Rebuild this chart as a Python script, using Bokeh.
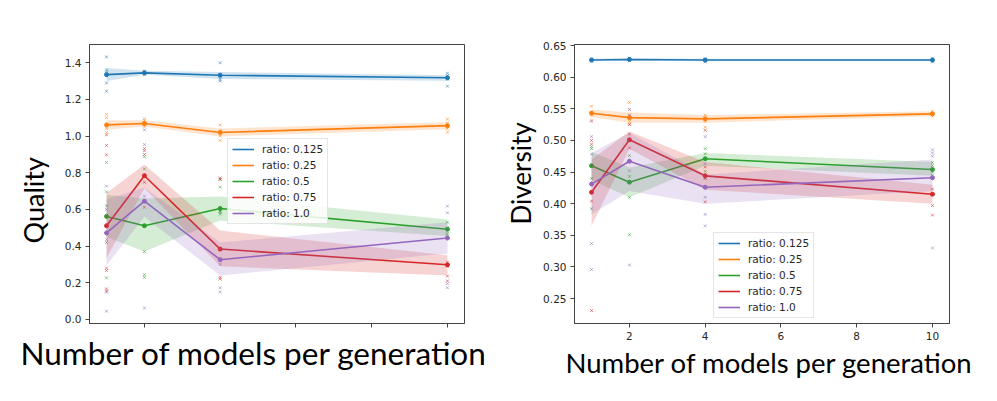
from bokeh.plotting import figure
from bokeh.models import (Legend, LegendItem, FixedTicker, Range1d, Title,
                          PrintfTickFormatter)
from bokeh.layouts import row
from bokeh.embed import file_html
from bokeh.resources import INLINE

# ---------------- data ----------------
X = [1, 2, 4, 10]
RATIOS = ["ratio: 0.125", "ratio: 0.25", "ratio: 0.5", "ratio: 0.75", "ratio: 1.0"]
COLORS = ["#1f77b4", "#ff7f0e", "#2ca02c", "#d62728", "#9467bd"]

# Quality (left panel): means, CI lower, CI upper
Q_MEAN_0125 = [1.335, 1.345, 1.332, 1.318]
Q_MEAN_025 = [1.061, 1.069, 1.020, 1.057]
Q_MEAN_05 = [0.562, 0.511, 0.605, 0.492]
Q_MEAN_075 = [0.511, 0.784, 0.384, 0.298]
Q_MEAN_10 = [0.472, 0.645, 0.326, 0.444]

Q_LO_0125 = [1.300, 1.335, 1.312, 1.302]
Q_HI_0125 = [1.372, 1.356, 1.350, 1.332]
Q_LO_025 = [1.036, 1.052, 0.998, 1.038]
Q_HI_025 = [1.086, 1.086, 1.042, 1.076]
Q_LO_05 = [0.450, 0.370, 0.540, 0.455]
Q_HI_05 = [0.680, 0.660, 0.670, 0.545]
Q_LO_075 = [0.335, 0.715, 0.290, 0.240]
Q_HI_075 = [0.690, 0.845, 0.485, 0.350]
Q_LO_10 = [0.295, 0.560, 0.240, 0.360]
Q_HI_10 = [0.655, 0.720, 0.420, 0.530]

# Quality individual runs, one list per x value (1, 2, 4, 10)
Q_PTS_0125 = [[1.432, 1.361, 1.350, 1.290, 1.245], [1.355, 1.348, 1.340, 1.335],
              [1.400, 1.335, 1.325, 1.310, 1.300], [1.343, 1.330, 1.320, 1.310, 1.272]]
Q_PTS_025 = [[1.118, 1.100, 1.063, 1.041, 1.020], [1.095, 1.085, 1.070, 1.060, 1.050],
             [1.060, 1.030, 1.020, 1.000, 0.976], [1.092, 1.070, 1.055, 1.040, 1.021]]
Q_PTS_05 = [[0.856, 0.696, 0.620, 0.420, 0.227], [0.887, 0.821, 0.370, 0.244, 0.230],
            [0.763, 0.722, 0.590, 0.585, 0.575], [0.530, 0.500, 0.490, 0.470, 0.460]]
Q_PTS_075 = [[1.007, 0.949, 0.898, 0.280, 0.267, 0.167, 0.155], [0.932, 0.920, 0.900, 0.748, 0.612],
             [0.772, 0.765, 0.380, 0.230, 0.220], [0.312, 0.300, 0.290, 0.236, 0.210]]
Q_PTS_10 = [[0.727, 0.600, 0.436, 0.149, 0.045], [1.034, 0.954, 0.672, 0.650, 0.062],
            [0.320, 0.300, 0.173, 0.150], [0.618, 0.582, 0.450, 0.195, 0.173]]

# Diversity (right panel)
D_MEAN_0125 = [0.627, 0.628, 0.627, 0.627]
D_MEAN_025 = [0.543, 0.536, 0.534, 0.542]
D_MEAN_05 = [0.460, 0.434, 0.471, 0.454]
D_MEAN_075 = [0.418, 0.501, 0.444, 0.415]
D_MEAN_10 = [0.431, 0.467, 0.426, 0.441]

D_LO_0125 = [0.625, 0.626, 0.625, 0.625]
D_HI_0125 = [0.629, 0.630, 0.629, 0.629]
D_LO_025 = [0.537, 0.528, 0.528, 0.538]
D_HI_025 = [0.549, 0.544, 0.540, 0.546]
D_LO_05 = [0.437, 0.410, 0.460, 0.444]
D_HI_05 = [0.482, 0.457, 0.480, 0.466]
D_LO_075 = [0.365, 0.487, 0.422, 0.400]
D_HI_075 = [0.470, 0.514, 0.466, 0.430]
D_LO_10 = [0.383, 0.420, 0.400, 0.420]
D_HI_10 = [0.480, 0.512, 0.446, 0.470]

D_PTS_0125 = [[0.629, 0.627, 0.625], [0.630, 0.628, 0.626],
              [0.629, 0.627, 0.624], [0.630, 0.627, 0.624]]
D_PTS_025 = [[0.554, 0.545, 0.540, 0.532], [0.560, 0.549, 0.540, 0.530, 0.526],
             [0.540, 0.535, 0.530, 0.521], [0.546, 0.542, 0.538]]
D_PTS_05 = [[0.490, 0.487, 0.460, 0.440, 0.392], [0.476, 0.443, 0.410, 0.351],
            [0.487, 0.479, 0.451, 0.440], [0.465, 0.460, 0.450, 0.445]]
D_PTS_075 = [[0.500, 0.494, 0.404, 0.231], [0.525, 0.510, 0.500, 0.488],
             [0.516, 0.458, 0.440, 0.403], [0.423, 0.415, 0.397, 0.382]]
D_PTS_10 = [[0.530, 0.506, 0.478, 0.337, 0.296], [0.549, 0.540, 0.452, 0.303],
            [0.506, 0.463, 0.410, 0.383, 0.365], [0.485, 0.480, 0.475, 0.330]]

Q_YTICKS = [0.0, 0.2, 0.4, 0.6, 0.8, 1.0, 1.2, 1.4]
D_YTICKS = [0.25, 0.30, 0.35, 0.40, 0.45, 0.50, 0.55, 0.60, 0.65]
XTICKS = [2, 4, 6, 8, 10]
X_LABEL = "Number of models per generation"

Q_SERIES = [(Q_MEAN_0125, Q_LO_0125, Q_HI_0125, Q_PTS_0125),
            (Q_MEAN_025, Q_LO_025, Q_HI_025, Q_PTS_025),
            (Q_MEAN_05, Q_LO_05, Q_HI_05, Q_PTS_05),
            (Q_MEAN_075, Q_LO_075, Q_HI_075, Q_PTS_075),
            (Q_MEAN_10, Q_LO_10, Q_HI_10, Q_PTS_10)]
D_SERIES = [(D_MEAN_0125, D_LO_0125, D_HI_0125, D_PTS_0125),
            (D_MEAN_025, D_LO_025, D_HI_025, D_PTS_025),
            (D_MEAN_05, D_LO_05, D_HI_05, D_PTS_05),
            (D_MEAN_075, D_LO_075, D_HI_075, D_PTS_075),
            (D_MEAN_10, D_LO_10, D_HI_10, D_PTS_10)]

TICK_FONT = "DejaVu Sans"
BIG_FONT = "Lato"


def panel(series, width, yr, yticks, yfmt, borders, show_xlabels, legend_loc,
          ylabel, ylab_size, ylab_offset, ylab_standoff,
          xlab_size, xlab_offset, xlab_standoff):
    bl, br, bt, bb = borders
    p = figure(width=width, height=400, output_backend="svg", toolbar_location=None,
               title=None,
               x_range=Range1d(0.55, 10.45), y_range=Range1d(*yr),
               min_border_left=bl, min_border_right=br, min_border_top=bt,
               min_border_bottom=bb)
    p.grid.visible = False
    p.outline_line_color = "#444444"
    p.background_fill_color = "white"
    p.border_fill_color = "white"

    items = []
    for (mean, lo, hi, pts), lab, col in zip(series, RATIOS, COLORS):
        p.varea(x=X, y1=lo, y2=hi, fill_color=col, fill_alpha=0.2)
        px, py = [], []
        for xv, vals in zip(X, pts):
            px += [xv] * len(vals)
            py += vals
        p.scatter(x=px, y=py, marker="x", size=4, line_color=col, line_alpha=0.55,
                  line_width=1)
        r = p.line(x=X, y=mean, line_color=col, line_width=1.6)
        p.scatter(x=X, y=mean, marker="circle", size=4, fill_color=col, line_color=col)
        items.append(LegendItem(label=lab, renderers=[r]))

    for ax in (p.xaxis[0], p.yaxis[0]):
        ax.axis_line_color = "#444444"
        ax.major_tick_line_color = "#444444"
        ax.major_tick_in = 0
        ax.major_tick_out = 4
        ax.minor_tick_line_color = None
        ax.major_label_text_font = TICK_FONT
        ax.major_label_text_font_size = "10.5px"
        ax.major_label_text_color = "#262626"
        ax.major_label_standoff = 4
    p.xaxis.ticker = FixedTicker(ticks=XTICKS)
    p.yaxis.ticker = FixedTicker(ticks=yticks)
    p.yaxis.formatter = PrintfTickFormatter(format=yfmt)
    if not show_xlabels:
        p.xaxis.major_label_overrides = {t: "" for t in XTICKS}
        p.xaxis.major_label_standoff = 0

    leg = Legend(items=items, location=legend_loc, orientation="vertical",
                 label_text_font=TICK_FONT, label_text_font_size="10.5px",
                 label_text_color="#262626",
                 glyph_width=22, glyph_height=12, label_height=12,
                 spacing=4, padding=4, margin=0, label_standoff=8,
                 border_line_color="#cccccc", border_line_width=1,
                 background_fill_color="white", background_fill_alpha=0.85)
    p.add_layout(leg)

    yl = Title(text=ylabel, align="left", offset=ylab_offset, standoff=ylab_standoff,
               text_font=BIG_FONT, text_font_size=ylab_size, text_font_style="normal",
               text_color="black")
    p.add_layout(yl, "left")
    xl = Title(text=X_LABEL, align="left", offset=xlab_offset,
               standoff=xlab_standoff, text_font=BIG_FONT, text_font_size=xlab_size,
               text_font_style="normal", text_color="black")
    p.add_layout(xl, "below")
    return p


left = panel(Q_SERIES, 497, (-0.022, 1.4995), Q_YTICKS, "%.1f", (89, 33, 44, 77), False,
             (138, 99), "Quality", "27px", 80, 24, "31.5px", -69, 9)
right = panel(D_SERIES, 492, (0.2106, 0.6516), D_YTICKS, "%.2f", (77, 40, 43, 77), True,
              (139, 5), "Diversity", "26px", 99, 7, "27.5px", -9, 3)

layout = row(left, right)
open("out.html", "w").write(file_html(layout, INLINE))
